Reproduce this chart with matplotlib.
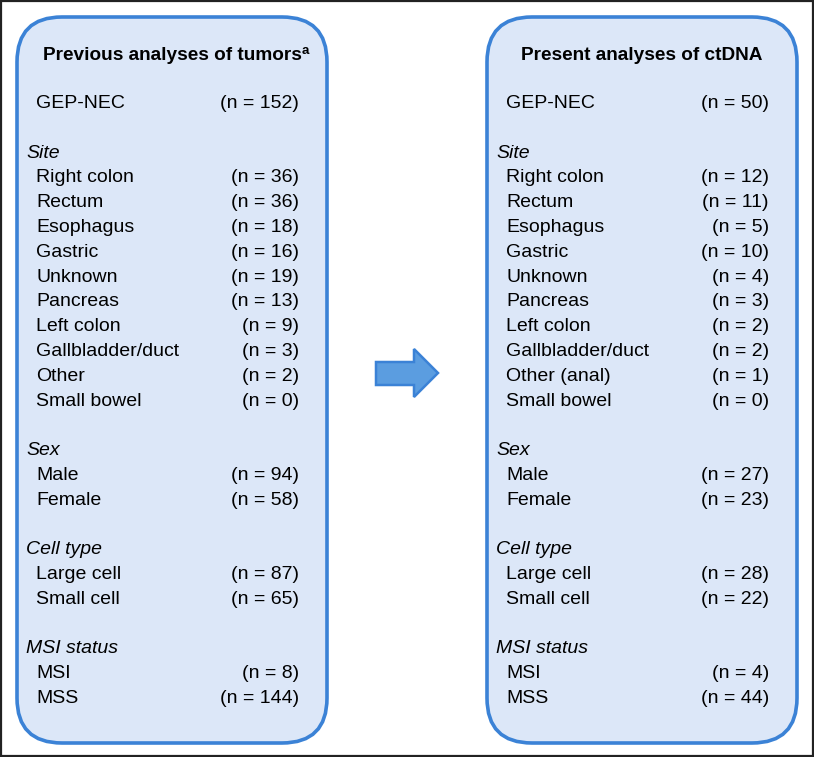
import matplotlib
matplotlib.use("Agg")
import matplotlib.pyplot as plt
from matplotlib.patches import FancyBboxPatch, Rectangle, Polygon

plt.rcParams['font.family'] = ['Liberation Sans', 'DejaVu Sans']

left_title = "Previous analyses of tumors"
right_title = "Present analyses of ctDNA"
total_label = "GEP-NEC"
left_total = 152
right_total = 50

site_labels = ["Right colon", "Rectum", "Esophagus", "Gastric", "Unknown",
               "Pancreas", "Left colon", "Gallbladder/duct", "Other", "Small bowel"]
site_labels_right = ["Right colon", "Rectum", "Esophagus", "Gastric", "Unknown",
                     "Pancreas", "Left colon", "Gallbladder/duct", "Other (anal)", "Small bowel"]
site_left = [36, 36, 18, 16, 19, 13, 9, 3, 2, 0]
site_right = [12, 11, 5, 10, 4, 3, 2, 2, 1, 0]

sex_labels = ["Male", "Female"]
sex_left = [94, 58]
sex_right = [27, 23]

cell_labels = ["Large cell", "Small cell"]
cell_left = [87, 65]
cell_right = [28, 22]

msi_labels = ["MSI", "MSS"]
msi_left = [8, 144]
msi_right = [4, 44]

W, H = 814, 757
fig = plt.figure(figsize=(W / 100, H / 100), dpi=100)
ax = fig.add_axes([0, 0, 1, 1])
ax.set_xlim(0, W)
ax.set_ylim(H, 0)
ax.axis('off')

# outer frame
ax.add_patch(Rectangle((1, 1), W - 2, H - 2, fill=False, edgecolor='#222222', lw=1.6))

edge = '#3b82d6'
fill = '#dce7f8'
fs = 14.0
step = 24.8


def panel(x0, title, sup, total, groups):
    box = FancyBboxPatch((x0, 17), 310, 726, boxstyle="round,pad=0,rounding_size=45",
                         facecolor=fill, edgecolor=edge, lw=2.6)
    ax.add_patch(box)
    xi = x0 + 19
    xl = x0 + 9
    xr = x0 + 282
    if sup:
        t = ax.text(x0 + 26, 55, title, fontsize=13.7, fontweight='bold', ha='left', va='center')
        ax.annotate(sup, xy=(1, 1), xycoords=t, xytext=(-0.5, 1.0), textcoords='offset points',
                    fontsize=9.5, fontweight='bold', ha='left', va='top')
    else:
        ax.text(x0 + 155, 55, title, fontsize=13.7, fontweight='bold', ha='center', va='center')
    y = 103
    ax.text(xi, y, total_label, fontsize=fs, ha='left', va='center')
    ax.text(xr, y, f"(n = {total})", fontsize=fs, ha='right', va='center')
    y = 153
    for name, labels, vals in groups:
        ax.text(xl, y, name, fontsize=fs, style='italic', ha='left', va='center')
        y += step
        for lab, v in zip(labels, vals):
            ax.text(xi, y, lab, fontsize=fs, ha='left', va='center')
            ax.text(xr, y, f"(n = {v})", fontsize=fs, ha='right', va='center')
            y += step
        y += step


panel(17, left_title, "a", left_total,
      [("Site", site_labels, site_left), ("Sex", sex_labels, sex_left),
       ("Cell type", cell_labels, cell_left), ("MSI status", msi_labels, msi_left)])
panel(487, right_title, None, right_total,
      [("Site", site_labels_right, site_right), ("Sex", sex_labels, sex_right),
       ("Cell type", cell_labels, cell_right), ("MSI status", msi_labels, msi_right)])

# arrow
arrow = Polygon([(376, 362), (414, 362), (414, 349), (438, 373), (414, 397), (414, 385), (376, 385)],
                closed=True, facecolor='#5b9de0', edgecolor='#3b82d6', lw=1.8)
ax.add_patch(arrow)

fig.savefig("out.png", dpi=100)
